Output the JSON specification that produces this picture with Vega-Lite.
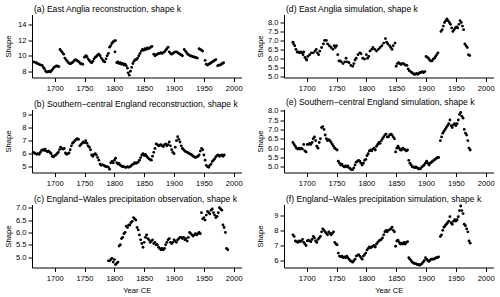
{
  "$schema": "https://vega.github.io/schema/vega-lite/v6.json",
  "background": "white",
  "padding": {"left": 3, "top": 4.5, "right": 2, "bottom": 2},
  "bounds": "flush",
  "columns": 2,
  "spacing": {"row": 32, "column": 42},
  "config": {
    "font": "Liberation Sans",
    "view": {"stroke": null},
    "axis": {"grid": false, "domainColor": "#000", "tickColor": "#000", "labelColor": "#000", "titleColor": "#000", "labelFontSize": 7.6, "titleFontSize": 7.6, "titleFontWeight": "normal", "tickSize": 4, "domainWidth": 1, "tickWidth": 1},
    "axisX": {"labelPadding": 3, "values": [1700, 1750, 1800, 1850, 1900, 1950, 2000], "format": "d"},
    "axisY": {"labelPadding": 2, "titleX": -24, "titleY": 31.5, "titleAngle": -90, "titleAlign": "center", "titleBaseline": "middle"},
    "title": {"fontSize": 8.6, "fontWeight": "normal", "anchor": "start", "frame": "group", "color": "#000", "offset": 0.5, "dx": 2},
    "point": {"filled": true, "color": "#000", "size": 8, "opacity": 1}
  },
  "datasets": {
    "a": [{"year":1665,"shape":9.2},{"year":1667,"shape":9.15},{"year":1669,"shape":9.1},{"year":1671,"shape":9.0},{"year":1673,"shape":8.95},{"year":1675,"shape":8.85},{"year":1677,"shape":8.8},{"year":1679,"shape":8.75},{"year":1681,"shape":8.5},{"year":1683,"shape":8.3},{"year":1685,"shape":8.0},{"year":1687,"shape":7.9},{"year":1689,"shape":7.95},{"year":1691,"shape":8.0},{"year":1693,"shape":7.9},{"year":1695,"shape":8.1},{"year":1697,"shape":8.3},{"year":1699,"shape":8.5},{"year":1701,"shape":8.6},{"year":1703,"shape":8.7},{"year":1705,"shape":8.65},{"year":1707,"shape":8.6},{"year":1709,"shape":10.8},{"year":1711,"shape":10.6},{"year":1713,"shape":10.4},{"year":1715,"shape":10.2},{"year":1717,"shape":9.7},{"year":1719,"shape":9.5},{"year":1721,"shape":9.3},{"year":1723,"shape":9.1},{"year":1725,"shape":9.0},{"year":1727,"shape":9.0},{"year":1729,"shape":9.1},{"year":1731,"shape":9.2},{"year":1733,"shape":9.4},{"year":1735,"shape":9.5},{"year":1737,"shape":9.4},{"year":1739,"shape":9.3},{"year":1741,"shape":9.2},{"year":1743,"shape":9.0},{"year":1745,"shape":8.95},{"year":1747,"shape":8.9},{"year":1750,"shape":9.8},{"year":1752,"shape":10.0},{"year":1754,"shape":9.9},{"year":1756,"shape":9.6},{"year":1758,"shape":9.4},{"year":1760,"shape":9.2},{"year":1762,"shape":9.1},{"year":1764,"shape":9.3},{"year":1766,"shape":9.6},{"year":1768,"shape":9.8},{"year":1770,"shape":9.9},{"year":1772,"shape":10.1},{"year":1774,"shape":10.2},{"year":1776,"shape":10.0},{"year":1778,"shape":9.7},{"year":1780,"shape":9.5},{"year":1782,"shape":9.3},{"year":1784,"shape":9.2},{"year":1786,"shape":9.6},{"year":1788,"shape":10.0},{"year":1790,"shape":10.3},{"year":1792,"shape":11.1},{"year":1794,"shape":11.3},{"year":1796,"shape":11.6},{"year":1798,"shape":11.8},{"year":1800,"shape":11.9},{"year":1802,"shape":11.95},{"year":1801,"shape":10.5},{"year":1804,"shape":9.1},{"year":1806,"shape":9.2},{"year":1808,"shape":9.0},{"year":1810,"shape":9.1},{"year":1812,"shape":8.9},{"year":1814,"shape":9.0},{"year":1816,"shape":8.8},{"year":1818,"shape":8.9},{"year":1820,"shape":8.7},{"year":1822,"shape":8.4},{"year":1823,"shape":7.8},{"year":1825,"shape":7.5},{"year":1827,"shape":8.0},{"year":1829,"shape":8.5},{"year":1831,"shape":9.0},{"year":1833,"shape":9.3},{"year":1835,"shape":9.5},{"year":1837,"shape":9.5},{"year":1839,"shape":9.7},{"year":1841,"shape":10.0},{"year":1843,"shape":10.3},{"year":1845,"shape":10.6},{"year":1847,"shape":10.8},{"year":1849,"shape":10.7},{"year":1851,"shape":10.9},{"year":1853,"shape":10.8},{"year":1855,"shape":11.0},{"year":1857,"shape":10.9},{"year":1859,"shape":11.0},{"year":1861,"shape":11.1},{"year":1863,"shape":11.2},{"year":1866,"shape":10.2},{"year":1868,"shape":10.0},{"year":1870,"shape":10.1},{"year":1872,"shape":10.2},{"year":1874,"shape":10.3},{"year":1876,"shape":10.3},{"year":1878,"shape":10.4},{"year":1880,"shape":10.3},{"year":1882,"shape":10.4},{"year":1884,"shape":10.5},{"year":1886,"shape":10.7},{"year":1888,"shape":10.9},{"year":1890,"shape":11.1},{"year":1892,"shape":10.5},{"year":1894,"shape":10.3},{"year":1896,"shape":10.2},{"year":1898,"shape":10.3},{"year":1900,"shape":10.4},{"year":1902,"shape":10.5},{"year":1904,"shape":10.5},{"year":1906,"shape":10.4},{"year":1908,"shape":10.3},{"year":1910,"shape":10.2},{"year":1912,"shape":10.1},{"year":1914,"shape":10.0},{"year":1917,"shape":10.8},{"year":1919,"shape":10.6},{"year":1921,"shape":10.4},{"year":1923,"shape":10.2},{"year":1925,"shape":10.1},{"year":1927,"shape":10.0},{"year":1929,"shape":9.95},{"year":1931,"shape":9.9},{"year":1933,"shape":9.85},{"year":1935,"shape":9.8},{"year":1937,"shape":9.75},{"year":1939,"shape":9.7},{"year":1942,"shape":10.9},{"year":1944,"shape":10.8},{"year":1946,"shape":10.7},{"year":1948,"shape":10.6},{"year":1952,"shape":9.4},{"year":1954,"shape":8.9},{"year":1956,"shape":8.8},{"year":1958,"shape":8.9},{"year":1960,"shape":9.0},{"year":1962,"shape":9.1},{"year":1964,"shape":9.2},{"year":1966,"shape":9.3},{"year":1968,"shape":9.4},{"year":1970,"shape":9.5},{"year":1973,"shape":8.7},{"year":1975,"shape":8.8},{"year":1977,"shape":8.8},{"year":1979,"shape":8.9},{"year":1981,"shape":9.0},{"year":1983,"shape":9.1}],
    "b": [{"year":1664,"shape":6.1},{"year":1666,"shape":6.05},{"year":1668,"shape":6.0},{"year":1670,"shape":5.95},{"year":1672,"shape":6.0},{"year":1674,"shape":5.95},{"year":1676,"shape":6.1},{"year":1678,"shape":6.25},{"year":1680,"shape":6.3},{"year":1682,"shape":6.25},{"year":1684,"shape":6.35},{"year":1686,"shape":6.2},{"year":1688,"shape":6.15},{"year":1690,"shape":6.2},{"year":1692,"shape":6.1},{"year":1694,"shape":6.0},{"year":1696,"shape":5.8},{"year":1698,"shape":5.75},{"year":1700,"shape":5.85},{"year":1702,"shape":5.9},{"year":1704,"shape":6.0},{"year":1706,"shape":6.1},{"year":1708,"shape":6.3},{"year":1710,"shape":6.5},{"year":1712,"shape":6.4},{"year":1714,"shape":6.35},{"year":1716,"shape":6.4},{"year":1718,"shape":6.05},{"year":1720,"shape":5.95},{"year":1722,"shape":6.0},{"year":1724,"shape":6.05},{"year":1726,"shape":6.3},{"year":1728,"shape":6.6},{"year":1730,"shape":6.8},{"year":1732,"shape":6.9},{"year":1734,"shape":7.0},{"year":1736,"shape":7.1},{"year":1738,"shape":7.15},{"year":1740,"shape":7.1},{"year":1742,"shape":6.6},{"year":1744,"shape":6.7},{"year":1746,"shape":6.8},{"year":1748,"shape":6.9},{"year":1750,"shape":6.85},{"year":1752,"shape":7.0},{"year":1754,"shape":6.8},{"year":1756,"shape":6.6},{"year":1758,"shape":6.5},{"year":1760,"shape":6.3},{"year":1762,"shape":5.9},{"year":1764,"shape":5.8},{"year":1766,"shape":5.95},{"year":1768,"shape":6.0},{"year":1770,"shape":5.9},{"year":1772,"shape":5.7},{"year":1774,"shape":5.5},{"year":1776,"shape":5.2},{"year":1778,"shape":5.1},{"year":1780,"shape":5.15},{"year":1782,"shape":5.1},{"year":1784,"shape":5.05},{"year":1786,"shape":5.0},{"year":1788,"shape":5.0},{"year":1790,"shape":4.95},{"year":1792,"shape":4.8},{"year":1794,"shape":5.3},{"year":1796,"shape":5.4},{"year":1798,"shape":5.3},{"year":1800,"shape":5.5},{"year":1802,"shape":5.65},{"year":1804,"shape":5.3},{"year":1806,"shape":5.2},{"year":1808,"shape":5.25},{"year":1810,"shape":5.1},{"year":1812,"shape":5.05},{"year":1814,"shape":5.0},{"year":1816,"shape":5.0},{"year":1818,"shape":4.95},{"year":1820,"shape":4.95},{"year":1822,"shape":5.0},{"year":1824,"shape":4.95},{"year":1826,"shape":5.0},{"year":1828,"shape":5.05},{"year":1830,"shape":5.15},{"year":1832,"shape":5.2},{"year":1834,"shape":5.3},{"year":1836,"shape":5.25},{"year":1838,"shape":5.3},{"year":1840,"shape":5.35},{"year":1842,"shape":5.5},{"year":1844,"shape":5.7},{"year":1846,"shape":5.9},{"year":1848,"shape":6.0},{"year":1850,"shape":5.85},{"year":1852,"shape":5.95},{"year":1854,"shape":5.8},{"year":1856,"shape":5.7},{"year":1858,"shape":5.6},{"year":1860,"shape":5.55},{"year":1862,"shape":5.5},{"year":1864,"shape":5.8},{"year":1866,"shape":6.1},{"year":1868,"shape":6.4},{"year":1870,"shape":6.75},{"year":1872,"shape":6.7},{"year":1874,"shape":6.6},{"year":1876,"shape":6.65},{"year":1878,"shape":6.7},{"year":1880,"shape":6.6},{"year":1882,"shape":6.55},{"year":1884,"shape":6.7},{"year":1886,"shape":6.75},{"year":1888,"shape":6.6},{"year":1890,"shape":6.7},{"year":1892,"shape":6.9},{"year":1894,"shape":6.6},{"year":1896,"shape":6.3},{"year":1898,"shape":6.1},{"year":1900,"shape":6.0},{"year":1902,"shape":6.5},{"year":1904,"shape":7.0},{"year":1906,"shape":7.3},{"year":1908,"shape":7.1},{"year":1910,"shape":6.9},{"year":1912,"shape":6.6},{"year":1914,"shape":6.4},{"year":1916,"shape":6.3},{"year":1918,"shape":6.2},{"year":1920,"shape":6.15},{"year":1922,"shape":6.1},{"year":1924,"shape":6.05},{"year":1926,"shape":6.0},{"year":1928,"shape":5.95},{"year":1930,"shape":5.9},{"year":1932,"shape":5.8},{"year":1934,"shape":5.75},{"year":1936,"shape":5.7},{"year":1938,"shape":5.75},{"year":1940,"shape":5.8},{"year":1942,"shape":5.9},{"year":1944,"shape":6.2},{"year":1946,"shape":6.4},{"year":1948,"shape":6.3},{"year":1950,"shape":5.9},{"year":1952,"shape":5.5},{"year":1954,"shape":5.1},{"year":1956,"shape":5.0},{"year":1958,"shape":4.95},{"year":1960,"shape":5.1},{"year":1962,"shape":5.2},{"year":1964,"shape":5.4},{"year":1966,"shape":5.5},{"year":1968,"shape":5.6},{"year":1970,"shape":5.75},{"year":1972,"shape":5.85},{"year":1974,"shape":5.9},{"year":1976,"shape":5.8},{"year":1978,"shape":5.85},{"year":1980,"shape":5.9},{"year":1982,"shape":5.8},{"year":1984,"shape":5.9}],
    "c": [{"year":1790,"shape":4.85},{"year":1792,"shape":4.85},{"year":1794,"shape":4.9},{"year":1796,"shape":4.95},{"year":1798,"shape":4.8},{"year":1800,"shape":4.9},{"year":1802,"shape":4.7},{"year":1804,"shape":4.75},{"year":1806,"shape":4.8},{"year":1808,"shape":5.45},{"year":1810,"shape":5.5},{"year":1812,"shape":5.75},{"year":1814,"shape":5.8},{"year":1816,"shape":5.95},{"year":1818,"shape":6.0},{"year":1820,"shape":6.25},{"year":1822,"shape":6.2},{"year":1824,"shape":6.3},{"year":1826,"shape":6.3},{"year":1828,"shape":6.4},{"year":1830,"shape":6.45},{"year":1832,"shape":6.6},{"year":1834,"shape":6.55},{"year":1836,"shape":6.5},{"year":1838,"shape":6.2},{"year":1840,"shape":6.1},{"year":1842,"shape":5.9},{"year":1844,"shape":5.7},{"year":1846,"shape":5.55},{"year":1848,"shape":5.4},{"year":1850,"shape":5.6},{"year":1852,"shape":5.8},{"year":1854,"shape":5.9},{"year":1856,"shape":5.75},{"year":1858,"shape":5.7},{"year":1860,"shape":5.6},{"year":1862,"shape":5.65},{"year":1864,"shape":5.7},{"year":1866,"shape":5.55},{"year":1868,"shape":5.6},{"year":1870,"shape":5.5},{"year":1872,"shape":5.5},{"year":1874,"shape":5.4},{"year":1876,"shape":5.35},{"year":1878,"shape":5.3},{"year":1880,"shape":5.35},{"year":1882,"shape":5.3},{"year":1884,"shape":5.35},{"year":1886,"shape":5.5},{"year":1888,"shape":5.6},{"year":1890,"shape":5.7},{"year":1892,"shape":5.75},{"year":1894,"shape":5.6},{"year":1896,"shape":5.55},{"year":1898,"shape":5.6},{"year":1900,"shape":5.7},{"year":1902,"shape":5.65},{"year":1904,"shape":5.6},{"year":1906,"shape":5.7},{"year":1908,"shape":5.75},{"year":1910,"shape":5.8},{"year":1912,"shape":5.8},{"year":1914,"shape":5.75},{"year":1916,"shape":5.8},{"year":1918,"shape":5.7},{"year":1920,"shape":5.75},{"year":1922,"shape":5.65},{"year":1924,"shape":5.8},{"year":1926,"shape":6.0},{"year":1928,"shape":5.95},{"year":1930,"shape":5.9},{"year":1932,"shape":5.85},{"year":1934,"shape":5.9},{"year":1936,"shape":5.95},{"year":1938,"shape":5.9},{"year":1940,"shape":5.95},{"year":1942,"shape":6.0},{"year":1944,"shape":5.95},{"year":1946,"shape":6.8},{"year":1948,"shape":6.55},{"year":1950,"shape":6.6},{"year":1952,"shape":6.5},{"year":1954,"shape":6.7},{"year":1956,"shape":6.85},{"year":1958,"shape":6.8},{"year":1960,"shape":6.75},{"year":1962,"shape":6.9},{"year":1964,"shape":6.95},{"year":1966,"shape":6.8},{"year":1968,"shape":6.7},{"year":1970,"shape":6.6},{"year":1972,"shape":6.65},{"year":1974,"shape":6.8},{"year":1976,"shape":7.0},{"year":1978,"shape":6.95},{"year":1980,"shape":6.9},{"year":1982,"shape":6.3},{"year":1984,"shape":6.2},{"year":1986,"shape":6.0},{"year":1988,"shape":5.35},{"year":1990,"shape":5.3}],
    "d": [{"year":1677,"shape":6.9},{"year":1678,"shape":6.8},{"year":1680,"shape":6.7},{"year":1682,"shape":6.5},{"year":1684,"shape":6.35},{"year":1686,"shape":6.35},{"year":1688,"shape":6.3},{"year":1690,"shape":6.35},{"year":1692,"shape":6.3},{"year":1694,"shape":6.2},{"year":1695,"shape":6.35},{"year":1697,"shape":6.05},{"year":1699,"shape":5.95},{"year":1700,"shape":5.9},{"year":1702,"shape":6.1},{"year":1705,"shape":6.2},{"year":1708,"shape":6.3},{"year":1711,"shape":6.3},{"year":1714,"shape":6.4},{"year":1716,"shape":6.5},{"year":1718,"shape":6.3},{"year":1720,"shape":6.2},{"year":1722,"shape":6.4},{"year":1725,"shape":6.6},{"year":1728,"shape":6.8},{"year":1730,"shape":7.0},{"year":1733,"shape":7.0},{"year":1735,"shape":6.8},{"year":1738,"shape":6.7},{"year":1741,"shape":6.6},{"year":1744,"shape":6.5},{"year":1746,"shape":6.7},{"year":1748,"shape":6.6},{"year":1750,"shape":6.7},{"year":1752,"shape":6.2},{"year":1754,"shape":5.85},{"year":1756,"shape":5.85},{"year":1758,"shape":5.8},{"year":1761,"shape":5.7},{"year":1764,"shape":5.8},{"year":1766,"shape":6.0},{"year":1768,"shape":5.8},{"year":1771,"shape":5.75},{"year":1774,"shape":5.6},{"year":1777,"shape":5.55},{"year":1779,"shape":5.7},{"year":1781,"shape":5.9},{"year":1783,"shape":6.0},{"year":1786,"shape":6.2},{"year":1789,"shape":6.3},{"year":1791,"shape":6.25},{"year":1794,"shape":6.0},{"year":1797,"shape":5.95},{"year":1800,"shape":6.2},{"year":1802,"shape":6.0},{"year":1804,"shape":6.1},{"year":1806,"shape":6.4},{"year":1809,"shape":6.5},{"year":1811,"shape":6.6},{"year":1814,"shape":6.5},{"year":1817,"shape":6.4},{"year":1820,"shape":6.5},{"year":1823,"shape":6.6},{"year":1826,"shape":6.7},{"year":1829,"shape":6.85},{"year":1832,"shape":7.1},{"year":1834,"shape":6.9},{"year":1836,"shape":6.8},{"year":1839,"shape":6.7},{"year":1841,"shape":6.6},{"year":1843,"shape":6.5},{"year":1845,"shape":6.7},{"year":1848,"shape":6.85},{"year":1850,"shape":5.55},{"year":1852,"shape":5.7},{"year":1854,"shape":5.75},{"year":1856,"shape":5.7},{"year":1858,"shape":5.65},{"year":1860,"shape":5.7},{"year":1862,"shape":5.7},{"year":1864,"shape":5.65},{"year":1866,"shape":5.6},{"year":1868,"shape":5.6},{"year":1870,"shape":5.4},{"year":1872,"shape":5.3},{"year":1874,"shape":5.25},{"year":1876,"shape":5.2},{"year":1878,"shape":5.15},{"year":1880,"shape":5.1},{"year":1882,"shape":5.1},{"year":1884,"shape":5.15},{"year":1886,"shape":5.1},{"year":1888,"shape":5.15},{"year":1890,"shape":5.2},{"year":1892,"shape":5.2},{"year":1894,"shape":5.25},{"year":1896,"shape":5.2},{"year":1898,"shape":5.25},{"year":1900,"shape":6.1},{"year":1902,"shape":6.05},{"year":1904,"shape":6.0},{"year":1906,"shape":5.9},{"year":1908,"shape":5.85},{"year":1910,"shape":5.85},{"year":1912,"shape":5.95},{"year":1914,"shape":6.0},{"year":1916,"shape":6.1},{"year":1918,"shape":6.2},{"year":1920,"shape":6.3},{"year":1925,"shape":7.5},{"year":1927,"shape":7.6},{"year":1929,"shape":7.8},{"year":1931,"shape":8.0},{"year":1933,"shape":8.1},{"year":1935,"shape":8.2},{"year":1937,"shape":8.1},{"year":1939,"shape":8.0},{"year":1941,"shape":7.9},{"year":1943,"shape":7.7},{"year":1945,"shape":7.5},{"year":1947,"shape":7.6},{"year":1949,"shape":7.7},{"year":1951,"shape":7.75},{"year":1953,"shape":7.7},{"year":1955,"shape":7.9},{"year":1957,"shape":8.1},{"year":1959,"shape":8.0},{"year":1961,"shape":7.8},{"year":1963,"shape":7.6},{"year":1965,"shape":6.8},{"year":1967,"shape":6.7},{"year":1969,"shape":6.6},{"year":1971,"shape":6.2},{"year":1973,"shape":6.15}],
    "e": [{"year":1677,"shape":6.3},{"year":1679,"shape":6.2},{"year":1681,"shape":6.1},{"year":1683,"shape":6.0},{"year":1685,"shape":5.95},{"year":1687,"shape":6.0},{"year":1689,"shape":5.95},{"year":1691,"shape":6.0},{"year":1693,"shape":5.95},{"year":1695,"shape":6.2},{"year":1697,"shape":5.85},{"year":1699,"shape":5.8},{"year":1701,"shape":6.2},{"year":1703,"shape":6.2},{"year":1705,"shape":6.25},{"year":1707,"shape":6.2},{"year":1709,"shape":6.3},{"year":1711,"shape":6.5},{"year":1713,"shape":6.6},{"year":1715,"shape":6.4},{"year":1717,"shape":6.1},{"year":1719,"shape":6.0},{"year":1721,"shape":6.3},{"year":1723,"shape":6.5},{"year":1725,"shape":7.1},{"year":1727,"shape":7.15},{"year":1729,"shape":7.0},{"year":1731,"shape":6.7},{"year":1733,"shape":6.5},{"year":1735,"shape":6.4},{"year":1737,"shape":6.45},{"year":1739,"shape":6.4},{"year":1741,"shape":6.3},{"year":1743,"shape":6.2},{"year":1745,"shape":6.1},{"year":1747,"shape":6.0},{"year":1749,"shape":5.95},{"year":1751,"shape":5.9},{"year":1753,"shape":5.3},{"year":1755,"shape":5.2},{"year":1757,"shape":5.1},{"year":1759,"shape":5.15},{"year":1761,"shape":5.05},{"year":1763,"shape":5.0},{"year":1765,"shape":5.05},{"year":1767,"shape":5.0},{"year":1769,"shape":5.05},{"year":1771,"shape":4.95},{"year":1773,"shape":4.9},{"year":1775,"shape":4.85},{"year":1777,"shape":4.85},{"year":1779,"shape":4.95},{"year":1781,"shape":5.1},{"year":1783,"shape":5.25},{"year":1785,"shape":5.3},{"year":1787,"shape":5.35},{"year":1789,"shape":5.3},{"year":1791,"shape":5.2},{"year":1793,"shape":5.1},{"year":1795,"shape":5.2},{"year":1797,"shape":5.35},{"year":1799,"shape":5.4},{"year":1801,"shape":5.6},{"year":1803,"shape":5.7},{"year":1805,"shape":5.85},{"year":1807,"shape":5.9},{"year":1809,"shape":5.85},{"year":1811,"shape":5.95},{"year":1813,"shape":6.0},{"year":1815,"shape":5.9},{"year":1817,"shape":6.1},{"year":1819,"shape":6.2},{"year":1821,"shape":6.3},{"year":1823,"shape":6.25},{"year":1825,"shape":6.4},{"year":1827,"shape":6.5},{"year":1829,"shape":6.6},{"year":1831,"shape":6.7},{"year":1833,"shape":6.75},{"year":1835,"shape":6.6},{"year":1837,"shape":6.6},{"year":1839,"shape":6.7},{"year":1841,"shape":6.75},{"year":1843,"shape":6.7},{"year":1845,"shape":6.6},{"year":1847,"shape":6.5},{"year":1849,"shape":5.8},{"year":1851,"shape":6.0},{"year":1853,"shape":6.1},{"year":1855,"shape":6.0},{"year":1857,"shape":5.9},{"year":1859,"shape":5.9},{"year":1861,"shape":6.0},{"year":1863,"shape":5.95},{"year":1865,"shape":5.9},{"year":1867,"shape":5.85},{"year":1869,"shape":5.9},{"year":1871,"shape":5.35},{"year":1873,"shape":5.2},{"year":1875,"shape":5.1},{"year":1877,"shape":5.0},{"year":1879,"shape":5.0},{"year":1881,"shape":4.95},{"year":1883,"shape":5.0},{"year":1885,"shape":4.95},{"year":1887,"shape":4.9},{"year":1889,"shape":4.9},{"year":1891,"shape":4.9},{"year":1893,"shape":5.0},{"year":1895,"shape":5.05},{"year":1897,"shape":5.1},{"year":1899,"shape":5.2},{"year":1901,"shape":5.3},{"year":1903,"shape":5.2},{"year":1905,"shape":5.1},{"year":1907,"shape":5.2},{"year":1909,"shape":5.25},{"year":1911,"shape":5.3},{"year":1913,"shape":5.35},{"year":1915,"shape":5.4},{"year":1917,"shape":5.45},{"year":1919,"shape":5.5},{"year":1921,"shape":5.5},{"year":1924,"shape":6.4},{"year":1926,"shape":6.6},{"year":1928,"shape":6.8},{"year":1930,"shape":6.9},{"year":1932,"shape":7.0},{"year":1934,"shape":7.1},{"year":1936,"shape":7.2},{"year":1938,"shape":7.3},{"year":1940,"shape":7.5},{"year":1942,"shape":7.2},{"year":1944,"shape":7.1},{"year":1946,"shape":7.25},{"year":1948,"shape":7.3},{"year":1950,"shape":7.2},{"year":1952,"shape":7.3},{"year":1954,"shape":7.5},{"year":1956,"shape":7.8},{"year":1958,"shape":7.9},{"year":1960,"shape":7.7},{"year":1962,"shape":7.6},{"year":1964,"shape":7.0},{"year":1966,"shape":6.8},{"year":1968,"shape":6.7},{"year":1970,"shape":6.4},{"year":1972,"shape":6.0},{"year":1974,"shape":5.9}],
    "f": [{"year":1677,"shape":7.7},{"year":1679,"shape":7.6},{"year":1681,"shape":7.3},{"year":1683,"shape":7.25},{"year":1685,"shape":7.2},{"year":1687,"shape":7.3},{"year":1689,"shape":7.25},{"year":1691,"shape":7.3},{"year":1693,"shape":7.4},{"year":1695,"shape":7.2},{"year":1697,"shape":7.1},{"year":1699,"shape":7.0},{"year":1701,"shape":7.3},{"year":1703,"shape":7.35},{"year":1705,"shape":7.3},{"year":1707,"shape":7.25},{"year":1709,"shape":7.4},{"year":1711,"shape":7.6},{"year":1713,"shape":7.5},{"year":1715,"shape":7.3},{"year":1717,"shape":7.2},{"year":1719,"shape":7.4},{"year":1721,"shape":7.5},{"year":1723,"shape":7.6},{"year":1725,"shape":7.9},{"year":1727,"shape":8.1},{"year":1729,"shape":8.0},{"year":1731,"shape":7.9},{"year":1733,"shape":7.8},{"year":1735,"shape":7.7},{"year":1737,"shape":7.9},{"year":1739,"shape":7.8},{"year":1741,"shape":7.7},{"year":1743,"shape":7.8},{"year":1745,"shape":7.9},{"year":1747,"shape":7.2},{"year":1749,"shape":7.1},{"year":1751,"shape":7.05},{"year":1753,"shape":6.5},{"year":1755,"shape":6.3},{"year":1757,"shape":6.25},{"year":1759,"shape":6.3},{"year":1761,"shape":6.2},{"year":1763,"shape":6.25},{"year":1765,"shape":6.2},{"year":1767,"shape":6.3},{"year":1769,"shape":6.2},{"year":1771,"shape":6.1},{"year":1773,"shape":6.0},{"year":1775,"shape":5.95},{"year":1777,"shape":5.9},{"year":1779,"shape":6.0},{"year":1781,"shape":6.1},{"year":1783,"shape":6.3},{"year":1785,"shape":6.35},{"year":1787,"shape":6.4},{"year":1789,"shape":6.3},{"year":1791,"shape":6.2},{"year":1793,"shape":6.1},{"year":1795,"shape":6.3},{"year":1797,"shape":6.4},{"year":1799,"shape":6.5},{"year":1801,"shape":6.7},{"year":1803,"shape":6.8},{"year":1805,"shape":6.9},{"year":1807,"shape":6.85},{"year":1809,"shape":6.9},{"year":1811,"shape":6.95},{"year":1813,"shape":7.0},{"year":1815,"shape":6.9},{"year":1817,"shape":7.1},{"year":1819,"shape":7.2},{"year":1821,"shape":7.3},{"year":1823,"shape":7.35},{"year":1825,"shape":7.4},{"year":1827,"shape":7.5},{"year":1829,"shape":7.7},{"year":1831,"shape":7.9},{"year":1833,"shape":8.0},{"year":1835,"shape":7.9},{"year":1837,"shape":8.0},{"year":1839,"shape":8.05},{"year":1841,"shape":8.1},{"year":1843,"shape":8.2},{"year":1845,"shape":8.0},{"year":1847,"shape":7.9},{"year":1849,"shape":6.95},{"year":1851,"shape":7.3},{"year":1853,"shape":7.35},{"year":1855,"shape":7.2},{"year":1857,"shape":7.1},{"year":1859,"shape":7.15},{"year":1861,"shape":7.1},{"year":1863,"shape":7.2},{"year":1865,"shape":7.1},{"year":1867,"shape":7.2},{"year":1869,"shape":7.25},{"year":1871,"shape":6.2},{"year":1873,"shape":6.1},{"year":1875,"shape":6.0},{"year":1877,"shape":5.9},{"year":1879,"shape":5.85},{"year":1881,"shape":5.8},{"year":1883,"shape":5.8},{"year":1885,"shape":5.75},{"year":1887,"shape":5.75},{"year":1889,"shape":5.7},{"year":1891,"shape":5.75},{"year":1893,"shape":5.8},{"year":1895,"shape":5.9},{"year":1897,"shape":6.0},{"year":1899,"shape":6.2},{"year":1901,"shape":6.1},{"year":1903,"shape":6.0},{"year":1905,"shape":5.95},{"year":1907,"shape":6.05},{"year":1909,"shape":6.1},{"year":1911,"shape":6.1},{"year":1913,"shape":6.1},{"year":1915,"shape":6.15},{"year":1917,"shape":6.2},{"year":1919,"shape":6.2},{"year":1921,"shape":6.25},{"year":1924,"shape":7.6},{"year":1926,"shape":7.7},{"year":1928,"shape":8.0},{"year":1930,"shape":8.2},{"year":1932,"shape":8.3},{"year":1934,"shape":8.4},{"year":1936,"shape":8.5},{"year":1938,"shape":8.6},{"year":1940,"shape":8.9},{"year":1942,"shape":8.5},{"year":1944,"shape":8.4},{"year":1946,"shape":8.6},{"year":1948,"shape":8.7},{"year":1950,"shape":8.6},{"year":1952,"shape":8.7},{"year":1954,"shape":8.9},{"year":1956,"shape":9.3},{"year":1958,"shape":9.6},{"year":1960,"shape":9.3},{"year":1962,"shape":9.1},{"year":1964,"shape":8.4},{"year":1966,"shape":8.3},{"year":1968,"shape":8.1},{"year":1970,"shape":7.9},{"year":1972,"shape":7.3},{"year":1974,"shape":7.15}]
  },
  "concat": [
    {"width": 209.5, "height": 63, "title": "(a) East Anglia reconstruction, shape k", "data": {"name": "a"}, "mark": {"type": "point"},
     "encoding": {"x": {"field": "year", "type": "quantitative", "scale": {"domain": [1662, 2013], "nice": false, "zero": false}, "axis": {"title": null}},
                  "y": {"field": "shape", "type": "quantitative", "scale": {"domain": [7.2, 15.3], "nice": false, "zero": false}, "axis": {"title": "Shape", "values": [8, 10, 12, 14], "format": "d"}}}},
    {"width": 209.5, "height": 63, "title": "(d) East Anglia simulation, shape k", "data": {"name": "d"}, "mark": {"type": "point"},
     "encoding": {"x": {"field": "year", "type": "quantitative", "scale": {"domain": [1662, 2013], "nice": false, "zero": false}, "axis": {"title": null}},
                  "y": {"field": "shape", "type": "quantitative", "scale": {"domain": [4.92, 8.45], "nice": false, "zero": false}, "axis": {"title": "Shape", "values": [5, 5.5, 6, 6.5, 7, 7.5, 8], "format": ".1f"}}}},
    {"width": 209.5, "height": 63, "title": "(b) Southern−central England reconstruction, shape k", "data": {"name": "b"}, "mark": {"type": "point"},
     "encoding": {"x": {"field": "year", "type": "quantitative", "scale": {"domain": [1662, 2013], "nice": false, "zero": false}, "axis": {"title": null}},
                  "y": {"field": "shape", "type": "quantitative", "scale": {"domain": [4.55, 9.4], "nice": false, "zero": false}, "axis": {"title": "Shape", "values": [5, 6, 7, 8, 9], "format": "d"}}}},
    {"width": 209.5, "height": 63, "title": "(e) Southern−central England simulation, shape k", "data": {"name": "e"}, "mark": {"type": "point"},
     "encoding": {"x": {"field": "year", "type": "quantitative", "scale": {"domain": [1662, 2013], "nice": false, "zero": false}, "axis": {"title": null}},
                  "y": {"field": "shape", "type": "quantitative", "scale": {"domain": [4.7, 8.06], "nice": false, "zero": false}, "axis": {"title": "Shape", "values": [5, 5.5, 6, 6.5, 7, 7.5, 8], "format": ".1f"}}}},
    {"width": 209.5, "height": 63, "title": "(c) England−Wales precipitation observation, shape k", "data": {"name": "c"}, "mark": {"type": "point"},
     "encoding": {"x": {"field": "year", "type": "quantitative", "scale": {"domain": [1662, 2013], "nice": false, "zero": false}, "axis": {"title": "Year CE", "titleY": 23, "titleBaseline": "middle"}},
                  "y": {"field": "shape", "type": "quantitative", "scale": {"domain": [4.58, 7.13], "nice": false, "zero": false}, "axis": {"title": "Shape", "values": [5, 5.5, 6, 6.5, 7], "format": ".1f"}}}},
    {"width": 209.5, "height": 63, "title": "(f) England−Wales precipitation simulation, shape k", "data": {"name": "f"}, "mark": {"type": "point"},
     "encoding": {"x": {"field": "year", "type": "quantitative", "scale": {"domain": [1662, 2013], "nice": false, "zero": false}, "axis": {"title": "Year CE", "titleY": 23, "titleBaseline": "middle"}},
                  "y": {"field": "shape", "type": "quantitative", "scale": {"domain": [5.55, 9.7], "nice": false, "zero": false}, "axis": {"title": "Shape", "values": [6, 7, 8, 9], "format": "d"}}}}
  ]
}
